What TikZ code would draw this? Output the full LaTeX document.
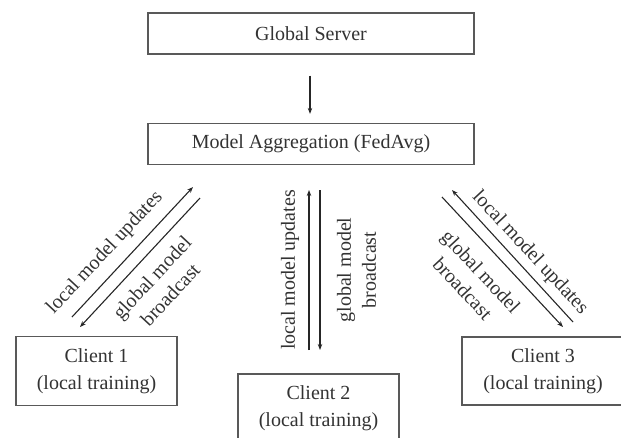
\documentclass[tikz,border=0pt]{standalone}
\usepackage{fontspec}
\setmainfont{Liberation Serif}
\usetikzlibrary{arrows.meta}
\begin{document}
\begin{tikzpicture}[x=1pt,y=-1pt,
  box/.style={draw=black!65,line width=1.2pt,inner sep=0pt,text=black!80,
    font=\fontsize{20}{27}\selectfont,align=center},
  lbl/.style={inner sep=0pt,text=black!80,font=\fontsize{20}{25}\selectfont,align=center},
  arr/.style={draw=black!85,line width=1.1pt,-{Stealth[length=6pt,width=4.5pt]}}]
\useasboundingbox (0,0) rectangle (621,437);
\fill[white] (0,0) rectangle (621,437);
% boxes
\node[box,minimum width=326pt,minimum height=41pt] (gs) at (311,33.5) {Global Server};
\node[box,minimum width=326pt,minimum height=41pt] (ma) at (311,144) {Model Aggregation (FedAvg)};
\node[box,minimum width=161pt,minimum height=69pt] (c1) at (96.5,371) {Client 1\\(local training)};
\node[box,minimum width=161pt,minimum height=68pt] (c2) at (318.5,408) {Client 2\\(local training)};
\node[box,minimum width=162pt,minimum height=68pt] (c3) at (543,371) {Client 3\\(local training)};
% server -> aggregation
\draw[arr] ([yshift=-21pt]gs.south -| 310,0) -- ([yshift=9pt]ma.north -| 310,0);
% arrow endpoints
\coordinate (l1a) at (72,317);  \coordinate (l1b) at (193,187);
\coordinate (l2a) at (200,198); \coordinate (l2b) at (80,327);
\coordinate (m1a) at (309,350); \coordinate (m1b) at (309,190);
\coordinate (m2a) at (320,190); \coordinate (m2b) at (320,350);
\coordinate (r1a) at (573,322); \coordinate (r1b) at (452,190);
\coordinate (r2a) at (442,197); \coordinate (r2b) at (563,327);
\draw[arr] (l1a) -- (l1b);
\draw[arr] (l2a) -- (l2b);
\draw[arr] (m1a) -- (m1b);
\draw[arr] (m2a) -- (m2b);
\draw[arr] (r1a) -- (r1b);
\draw[arr] (r2a) -- (r2b);
% labels
\node[lbl,rotate=47] (t1) at (105,253) {local model updates};
\node[lbl,rotate=47] (t2) at (161,286) {global model\\broadcast};
\node[lbl,rotate=90] (t3) at (290,270) {local model updates};
\node[lbl,rotate=90] (t4) at (356.5,270) {global model\\broadcast};
\node[lbl,rotate=-47] (t5) at (530,253) {local model updates};
\node[lbl,rotate=-47] (t6) at (472,280) {global model\\broadcast};
\end{tikzpicture}
\end{document}
